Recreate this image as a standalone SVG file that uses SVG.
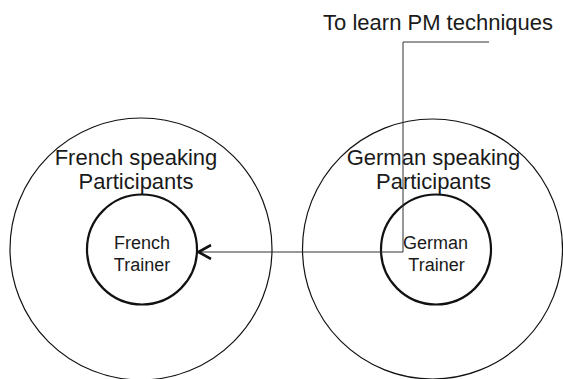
<svg xmlns="http://www.w3.org/2000/svg" width="563" height="379" viewBox="0 0 563 379">
<style>
.outer{fill:none;stroke:#111;stroke-width:1.2}
.inner{fill:none;stroke:#111;stroke-width:2.2}
.big{font-family:"Liberation Sans",Arial,sans-serif;font-size:22px;fill:#1a1a1a;text-anchor:middle}
.small{font-family:"Liberation Sans",Arial,sans-serif;font-size:18px;fill:#1a1a1a;text-anchor:middle}
.conn{fill:none;stroke:#333;stroke-width:1}
</style>
<defs>
<marker id="chev" viewBox="0 0 16 16" refX="15" refY="8" markerWidth="16" markerHeight="16" markerUnits="userSpaceOnUse" orient="auto">
<path d="M2,1 L14.5,8 L2,15" fill="none" stroke="#111" stroke-width="2.6"/>
</marker>
</defs>
<rect width="563" height="379" fill="#fff"/>
<g id="french-participants">
<circle class="outer" cx="141" cy="249" r="131"/>
<text class="big" x="136" y="165">French speaking</text>
<text class="big" x="136" y="189">Participants</text>
</g>
<g id="german-participants">
<circle class="outer" cx="432.5" cy="249" r="130"/>
<text class="big" x="433.5" y="165">German speaking</text>
<text class="big" x="433.5" y="189">Participants</text>
</g>
<g id="french-trainer">
<circle class="inner" cx="142" cy="249.5" r="55"/>
<text class="small" x="142" y="249">French</text>
<text class="small" x="142" y="271">Trainer</text>
</g>
<g id="german-trainer">
<circle class="inner" cx="436" cy="249.5" r="55"/>
<text class="small" x="435.5" y="249">German</text>
<text class="small" x="436.5" y="271">Trainer</text>
</g>
<g id="pm-label">
<text class="big" x="553" y="30" style="text-anchor:end">To learn PM techniques</text>
</g>
<g id="connectors">
<path class="conn" d="M489,42 H403 V252 H198" marker-end="url(#chev)"/>
</g>
</svg>
